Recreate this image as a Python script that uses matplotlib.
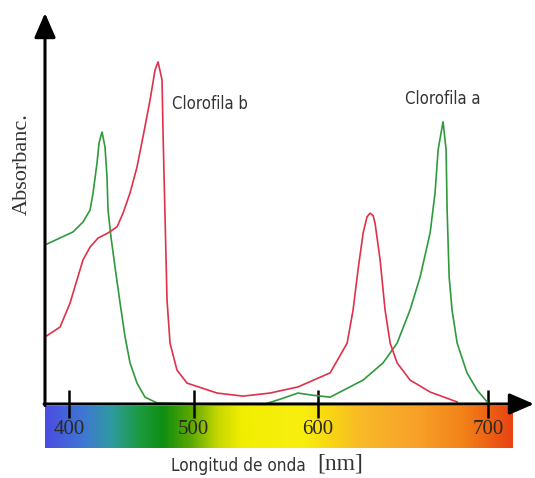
import numpy as np
import matplotlib
matplotlib.use("Agg")
import matplotlib.pyplot as plt
from matplotlib.colors import LinearSegmentedColormap
from matplotlib.transforms import blended_transform_factory

# absorption spectra (wavelength in nm, absorbance normalised to chl b peak)
chl_a_nm = [380.7, 403.2, 411.2, 416.9, 419.3, 422.5, 424.1, 426.5, 428.9, 430.5, 431.3,
            433.7, 436.9, 441.0, 445.0, 449.0, 454.6, 461.0, 470.7, 505.2, 557.4, 569.5,
            583.9, 595.0, 607.1, 626.5, 638.2, 646.5, 654.1, 660.0, 665.9, 668.8, 670.6,
            673.5, 675.3, 675.9, 677.1, 678.8, 681.8, 687.6, 693.5, 700.0]
chl_a_abs = [0.465, 0.503, 0.532, 0.567, 0.617, 0.705, 0.763, 0.795, 0.751, 0.664, 0.567,
             0.488, 0.401, 0.295, 0.196, 0.120, 0.061, 0.020, 0.003, 0.0, 0.0, 0.014,
             0.032, 0.026, 0.020, 0.070, 0.120, 0.178, 0.275, 0.371, 0.500, 0.617, 0.743,
             0.825, 0.743, 0.567, 0.371, 0.275, 0.178, 0.091, 0.041, 0.003]

chl_b_nm = [380.7, 392.8, 400.8, 406.4, 411.2, 416.9, 423.3, 431.3, 438.6, 443.4, 449.0,
            454.6, 459.4, 465.1, 469.1, 471.5, 474.7, 475.5, 477.1, 478.7, 481.1, 486.7,
            494.8, 518.9, 539.8, 561.4, 583.9, 607.1, 617.1, 620.6, 623.5, 626.5, 628.8,
            630.6, 632.4, 633.5, 636.5, 639.4, 642.4, 646.5, 654.1, 665.9, 681.8]
chl_b_abs = [0.196, 0.225, 0.295, 0.363, 0.421, 0.459, 0.485, 0.500, 0.518, 0.558, 0.617,
             0.693, 0.781, 0.889, 0.977, 1.0, 0.947, 0.792, 0.547, 0.304, 0.178, 0.099,
             0.061, 0.032, 0.023, 0.032, 0.050, 0.091, 0.178, 0.275, 0.392, 0.500, 0.547,
             0.558, 0.550, 0.529, 0.421, 0.275, 0.178, 0.120, 0.070, 0.035, 0.006]

ticks = [400, 500, 600, 700]

# spectrum strip colours (position along strip, colour)
strip_stops = [(0.0, "#4a4de0"), (0.08, "#3f78d4"), (0.14, "#2f9aa0"), (0.20, "#1c9a40"),
               (0.25, "#0e8e12"), (0.31, "#5aa800"), (0.37, "#c8d800"), (0.42, "#f2ee00"),
               (0.55, "#f8ee10"), (0.60, "#f8da10"), (0.68, "#f8b828"), (0.80, "#f8a028"),
               (0.90, "#f28018"), (1.0, "#e84412")]


# the drawing stretches the red end of the scale
def fwd(x):
    x = np.asarray(x, dtype=float)
    return np.where(x <= 600, (x - 400) * 1.245, 249 + (x - 600) * 1.70)


def inv(p):
    p = np.asarray(p, dtype=float)
    return np.where(p <= 249, 400 + p / 1.245, 600 + (p - 249) / 1.70)


W, H = 535, 478
fig = plt.figure(figsize=(W / 100, H / 100), dpi=100)

# colour strip under the axis
cax = fig.add_axes([45 / W, 1 - 448 / H, (513 - 45) / W, (448 - 406) / H])
cmap = LinearSegmentedColormap.from_list("spec", strip_stops)
cax.imshow(np.linspace(0, 1, 400)[None, :], aspect="auto", cmap=cmap,
           extent=[0, 1, 0, 1])
cax.set_axis_off()

ax = fig.add_axes([45 / W, 1 - 404 / H, (534 - 45) / W, (404 - 13) / H])
ax.set_zorder(3)
ax.patch.set_visible(False)
ax.set_xscale("function", functions=(fwd, inv))
ax.set_xlim(380.7, 727)
ax.set_ylim(0, 1.143)

ax.plot(chl_a_nm, chl_a_abs, color="#2e9a3c", lw=1.2, zorder=2)
ax.plot(chl_b_nm, chl_b_abs, color="#e0304a", lw=1.2, zorder=2)

for s in ax.spines.values():
    s.set_visible(False)
ax.set_yticks([])
ax.set_xticks(ticks)
ax.set_xticklabels([])
ax.tick_params(axis="x", direction="inout", length=20, width=1.8, color="black")

# arrow axes
head = "-|>,head_length=1.5,head_width=0.65"
ax.annotate("", xy=(0, 1), xytext=(0, -0.004), xycoords="axes fraction",
            arrowprops=dict(arrowstyle=head, lw=2.2, color="black",
                            shrinkA=0, shrinkB=0))
ax.annotate("", xy=(1, 0), xytext=(-0.002, 0), xycoords="axes fraction",
            arrowprops=dict(arrowstyle=head, lw=2.2, color="black",
                            shrinkA=0, shrinkB=0))

trans = blended_transform_factory(ax.transData, fig.transFigure)
for t in ticks:
    ax.text(t, 1 - 429 / H, str(t), transform=trans, ha="center", va="center",
            family="Liberation Serif", fontsize=15, color="#2a2a20")

narrow = dict(family=["DejaVu Sans"], fontstretch="condensed", color="#333333")
fig.text(172 / W, 1 - 104 / H, "Clorofila b", ha="left", va="center",
         fontsize=12, **narrow)
fig.text(405 / W, 1 - 99 / H, "Clorofila a", ha="left", va="center",
         fontsize=12, **narrow)

fig.text(306 / W, 1 - 466 / H, "Longitud de onda", ha="right", va="center",
         fontsize=12.3, **narrow)
fig.text(317 / W, 1 - 464 / H, "[nm]", ha="left", va="center",
         family="Liberation Serif", fontsize=17, color="#333333")
fig.text(22 / W, 1 - 164 / H, "Absorbanc.", rotation=90, ha="center", va="center",
         family="Liberation Serif", fontsize=16, color="#333333")

fig.savefig("out.png", dpi=100)
